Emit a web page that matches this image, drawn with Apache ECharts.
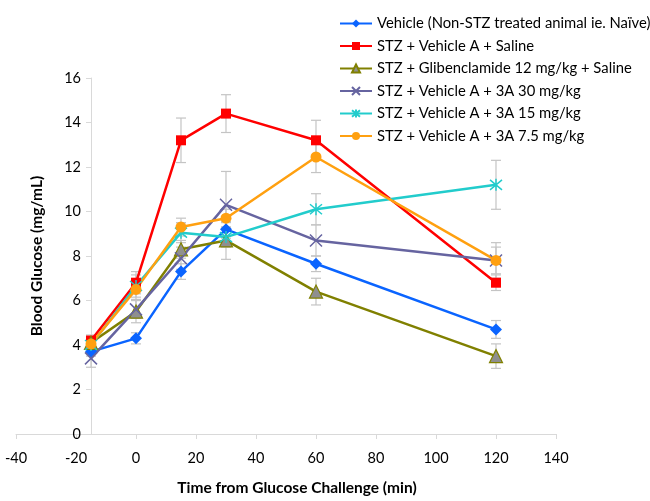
<!DOCTYPE html>
<html>
<head>
<meta charset="utf-8">
<script src="https://cdn.jsdelivr.net/npm/echarts@6/dist/echarts.min.js"></script>
<style>
  html, body { margin: 0; padding: 0; background: #fff; }
  #chart { width: 650px; height: 501px; }
</style>
</head>
<body>
<div id="chart"></div>
<script>
// Time points (min) relative to the glucose challenge
const times = [-15, 0, 15, 30, 60, 120];

// Mean blood glucose (mg/mL) per group
const vehicleNaive   = [3.7, 4.3, 7.3, 9.2, 7.65, 4.7];
const stzSaline      = [4.2, 6.8, 13.2, 14.4, 13.2, 6.8];
const glibenclamide  = [4.1, 5.5, 8.3, 8.7, 6.4, 3.5];
const dose3A30       = [3.4, 5.6, 7.9, 10.3, 8.7, 7.8];
const dose3A15       = [4.0, 6.65, 9.05, 8.85, 10.1, 11.2];
const dose3A7_5      = [4.05, 6.5, 9.3, 9.7, 12.45, 7.8];

// Standard error per group
const vehicleNaiveErr  = [0.2, 0.25, 0.35, 0.3, 0.35, 0.4];
const stzSalineErr     = [0.25, 0.5, 1.0, 0.85, 0.9, 0.35];
const glibenclamideErr = [0.3, 0.5, 0.4, 0.85, 0.6, 0.55];
const dose3A30Err      = [0.4, 0.4, 0.5, 1.5, 0.7, 0.8];
const dose3A15Err      = [0.3, 0.5, 0.45, 0.45, 0.7, 1.1];
const dose3A7_5Err     = [0.3, 0.45, 0.4, 0.4, 0.7, 0.6];

const groupNames = [
  'Vehicle (Non-STZ treated animal ie. Naïve)',
  'STZ + Vehicle A + Saline',
  'STZ + Glibenclamide 12 mg/kg + Saline',
  'STZ + Vehicle A + 3A 30 mg/kg',
  'STZ + Vehicle A + 3A 15 mg/kg',
  'STZ + Vehicle A + 3A 7.5 mg/kg'
];

// Axis ranges
const xMin = -40, xMax = 140, xStep = 20;
const yMin = 0, yMax = 16, yStep = 2;
const yAxisCross = -15;

const FONT = 'Lato';
const gridLeft = 16, gridRight = 94;
const chartWidth = 650;
const gridWidth = chartWidth - gridLeft - gridRight;
// shift the value axis so it sits at x = -15
const yAxisOffset = -((yAxisCross - xMin) / (xMax - xMin)) * gridWidth;

const crossPath = 'path://M0,0L10,10M10,0L0,10';
const starPath = 'path://M0,0L10,10M10,0L0,10M5,-1L5,11';

const styles = [
  { color: '#0a64ff', symbol: 'diamond', size: 12, fill: '#0a64ff', border: '#0a64ff', bw: 0 },
  { color: '#ff0000', symbol: 'rect', size: 10, fill: '#ff0000', border: '#ff0000', bw: 0 },
  { color: '#808000', symbol: 'triangle', size: 13, fill: '#8f8f8f', border: '#808000', bw: 1.2 },
  { color: '#6664a0', symbol: crossPath, size: 12, fill: 'rgba(0,0,0,0)', border: '#6664a0', bw: 1.5 },
  { color: '#22cccc', symbol: starPath, size: 12, fill: 'rgba(0,0,0,0)', border: '#22cccc', bw: 1.5 },
  { color: '#ffa010', symbol: 'circle', size: 11, fill: '#ffa010', border: '#ffa010', bw: 0 }
];

const means = [vehicleNaive, stzSaline, glibenclamide, dose3A30, dose3A15, dose3A7_5];
const errs = [vehicleNaiveErr, stzSalineErr, glibenclamideErr, dose3A30Err, dose3A15Err, dose3A7_5Err];

const errorBarSeries = means.map((m, i) => ({
  type: 'custom',
  name: 'err' + i,
  z: 1,
  clip: false,
  silent: true,
  data: times.map((t, k) => [t, m[k] - errs[i][k], m[k] + errs[i][k]]),
  encode: { x: 0, y: [1, 2] },
  renderItem: function (params, api) {
    const x = api.value(0);
    const lo = api.coord([x, api.value(1)]);
    const hi = api.coord([x, api.value(2)]);
    const half = 5;
    const st = { stroke: '#c4c4c4', lineWidth: 1.2 };
    return {
      type: 'group',
      children: [
        { type: 'line', shape: { x1: lo[0], y1: lo[1], x2: hi[0], y2: hi[1] }, style: st },
        { type: 'line', shape: { x1: lo[0] - half, y1: lo[1], x2: lo[0] + half, y2: lo[1] }, style: st },
        { type: 'line', shape: { x1: hi[0] - half, y1: hi[1], x2: hi[0] + half, y2: hi[1] }, style: st }
      ]
    };
  }
}));

const lineSeries = means.map((m, i) => ({
  type: 'line',
  name: groupNames[i],
  z: 3,
  data: times.map((t, k) => [t, m[k]]),
  symbol: styles[i].symbol,
  symbolSize: styles[i].size,
  showAllSymbol: true,
  lineStyle: { color: styles[i].color, width: 2.5 },
  itemStyle: { color: styles[i].fill, borderColor: styles[i].border, borderWidth: styles[i].bw },
  emphasis: { disabled: true },
  animation: false
}));

const chart = echarts.init(document.getElementById('chart'), null, { renderer: 'canvas' });
chart.setOption({
  animation: false,
  backgroundColor: '#ffffff',
  textStyle: { fontFamily: FONT },
  grid: { left: gridLeft, right: gridRight, top: 78, bottom: 61, containLabel: false },
  legend: {
    data: groupNames,
    orient: 'vertical',
    left: 334,
    top: 11,
    itemWidth: 32,
    itemHeight: 10,
    itemGap: 7.5,
    textStyle: { fontFamily: FONT, fontSize: 14.8, color: '#000', lineHeight: 14 }
  },
  xAxis: {
    type: 'value',
    min: xMin, max: xMax, interval: xStep,
    name: 'Time from Glucose Challenge (min)',
    nameLocation: 'middle',
    nameGap: 46,
    nameTextStyle: { fontFamily: FONT, fontWeight: 'bold', fontSize: 15.5, color: '#000', padding: [0, 0, 0, 22] },
    axisLine: { onZero: false, lineStyle: { color: '#d9d9d9', width: 1 } },
    axisTick: { show: true, inside: false, length: 5, lineStyle: { color: '#d9d9d9' } },
    axisLabel: { fontFamily: FONT, fontSize: 14.5, color: '#000', margin: 17 },
    splitLine: { show: false }
  },
  yAxis: {
    type: 'value',
    min: yMin, max: yMax, interval: yStep,
    offset: yAxisOffset,
    name: 'Blood Glucose (mg/mL)',
    nameLocation: 'middle',
    nameGap: 46,
    nameRotate: 90,
    nameTextStyle: { fontFamily: FONT, fontWeight: 'bold', fontSize: 15.5, color: '#000' },
    axisLine: { show: true, onZero: false, lineStyle: { color: '#d9d9d9', width: 1 } },
    axisTick: { show: true, inside: false, length: 5, lineStyle: { color: '#d9d9d9' } },
    axisLabel: { fontFamily: FONT, fontSize: 14.5, color: '#000', margin: 10 },
    splitLine: { show: false }
  },
  series: errorBarSeries.concat(lineSeries)
});
</script>
</body>
</html>
